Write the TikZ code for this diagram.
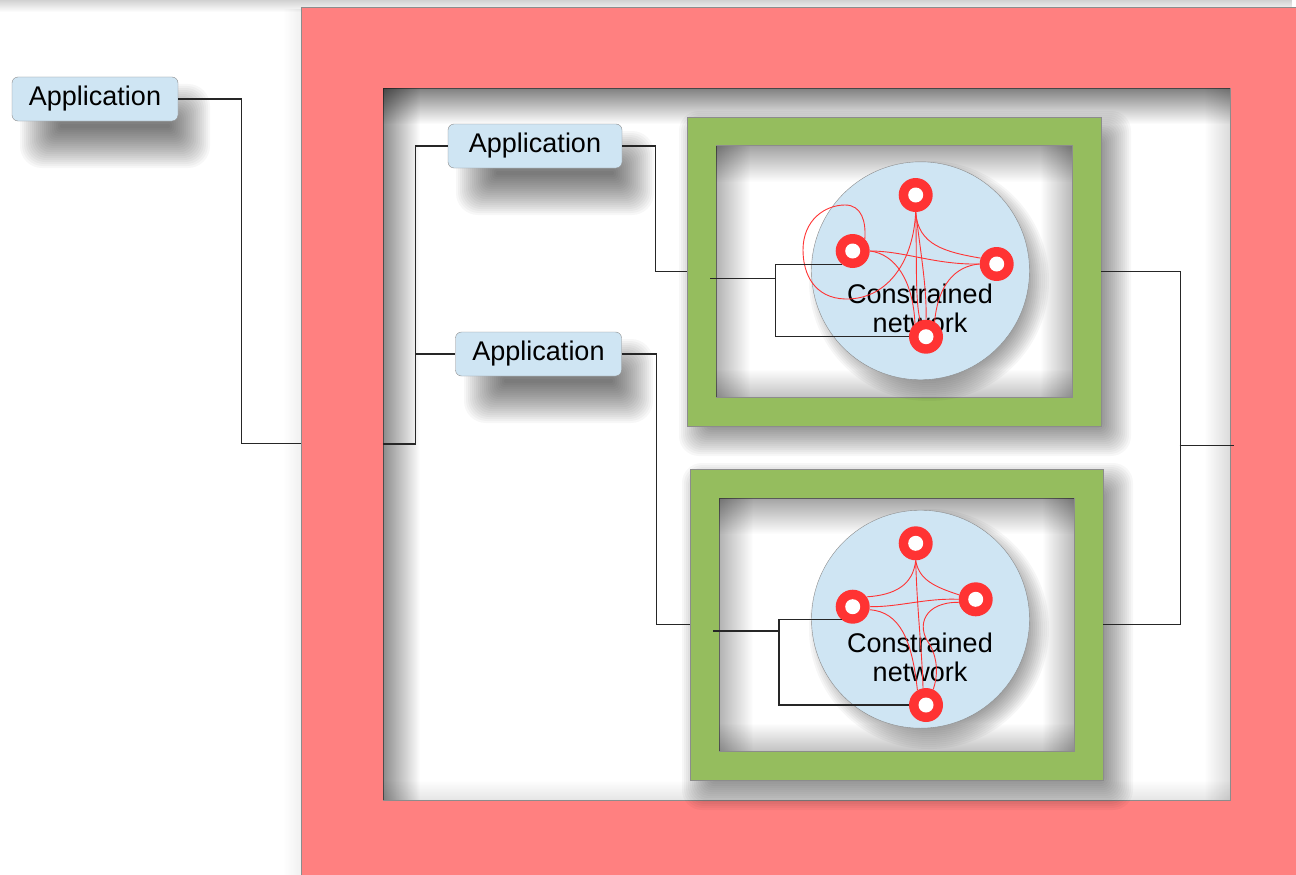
\documentclass[tikz,border=0pt]{standalone}
\usepackage{fontspec}
\setmainfont{Liberation Sans}
\usetikzlibrary{fadings,calc}

\definecolor{frameRed}{RGB}{255,128,128}
\definecolor{frameGreen}{RGB}{149,189,94}
\definecolor{cloudBlue}{RGB}{207,229,243}
\definecolor{ringRed}{RGB}{255,51,51}
\definecolor{edgeGray}{RGB}{140,140,140}

% soft edges: opaque on the named side, clear on the opposite one
\tikzfading[name=fromTop, top color=transparent!0, bottom color=transparent!100]
\tikzfading[name=fromBottom, top color=transparent!100, bottom color=transparent!0]
\tikzfading[name=fromLeft, left color=transparent!0, right color=transparent!100]
\tikzfading[name=fromRight, left color=transparent!100, right color=transparent!0]

% soft drop shadow of a rectangle: corners, spread, opacity of each layer
\newcommand{\dropshade}[6]{%
  \foreach \k in {0,2,...,#5}{%
    \pgfmathsetmacro{\sgx}{#1+#5/2-\k}%
    \pgfmathsetmacro{\sgy}{#2+#5/2-\k}%
    \pgfmathsetmacro{\sgX}{#3-#5/2+\k}%
    \pgfmathsetmacro{\sgY}{#4-#5/2+\k}%
    \pgfmathsetmacro{\sgrc}{2+\k/2}%
    \fill[black, opacity=#6, rounded corners=\sgrc pt] (\sgx,\sgy) rectangle (\sgX,\sgY);
  }}
% soft drop shadow of a disc: centre, radius, spread, opacity of each layer
\newcommand{\dropdisc}[5]{%
  \foreach \k in {0,2,...,#4}{%
    \pgfmathsetmacro{\sgr}{#3-#4/2+\k}%
    \fill[black, opacity=#5] (#1,#2) circle (\sgr pt);
  }}

\tikzset{
  bigfont/.style={font=\fontsize{27}{29.5}\selectfont},
  wire/.style={draw=black!85, line width=1.1pt},
  link/.style={draw=ringRed, line width=0.9pt},
  appbox/.style={rectangle, rounded corners=6pt, draw=edgeGray, fill=cloudBlue,
    inner sep=0pt, bigfont},
  greenframe/.style={rectangle, fill=frameGreen, draw=edgeGray, inner sep=0pt},
  pane/.style={rectangle, fill=white, draw=edgeGray, inner sep=0pt},
  cloud/.style={circle, draw=edgeGray, fill=cloudBlue, minimum size=218pt, inner sep=0pt},
  ring/.style={circle, fill=ringRed, minimum size=34pt, inner sep=0pt,
    path picture={\fill[white] (path picture bounding box.center) circle (7.5pt);}},
  netlabel/.style={align=center, inner sep=0pt, bigfont},
}

\begin{document}
\begin{tikzpicture}[x=1pt,y=-1pt]
\useasboundingbox (0,0) rectangle (1296,875);

% page background and soft shade along the top
\fill[white] (0,0) rectangle (1296,875);
\fill[black, opacity=0.18, path fading=fromTop] (0,0) rectangle (1296,12);
\fill[black, opacity=0.06, path fading=fromRight] (283,7) rectangle (301,875);

% outer red enclosure and its white interior
\node[rectangle, fill=frameRed, draw=edgeGray, inner sep=0pt,
      minimum width=1000pt, minimum height=873pt] (ext) at (801,443.5) {};
\node[pane, minimum width=847pt, minimum height=712pt] (inner) at (806.5,444) {};
\fill[black, opacity=0.50, path fading=fromTop]    (383,88) rectangle (1230,124);
\fill[black, opacity=0.45, path fading=fromLeft]   (383,88) rectangle (420,800);
\fill[black, opacity=0.14, path fading=fromRight]  (1204,88) rectangle (1230,800);
\fill[black, opacity=0.10, path fading=fromBottom] (383,780) rectangle (1230,800);

% applications
\dropshade{40}{104}{190}{148}{40}{0.03}
\dropshade{476}{151}{634}{195}{40}{0.03}
\dropshade{484}{359}{633}{403}{40}{0.03}
\node[appbox, minimum width=166pt, minimum height=44pt] (appOut) at (95,99) {Application};
\node[appbox, minimum width=174pt, minimum height=44pt] (app1) at (535,146) {Application};
\node[appbox, minimum width=166pt, minimum height=44pt] (app2) at (538.5,354) {Application};

% green gateway frames
\dropshade{697}{129}{1113}{438}{36}{0.03}
\dropshade{700}{481}{1115}{792}{36}{0.03}
\node[greenframe, minimum width=414pt, minimum height=309pt] (g1) at (894.2,271.7) {};
\node[pane, minimum width=356pt, minimum height=252pt] (g1in) at (894.2,271.5) {};
\node[greenframe, minimum width=413pt, minimum height=311pt] (g2) at (896.4,624.7) {};
\node[pane, minimum width=355pt, minimum height=253pt] (g2in) at (896.7,624.7) {};

% inner shading of the green frames
\foreach \xa/\ya/\xb/\yb in {716/146/1072/397, 719/498/1074/751}{
  \fill[black, opacity=0.36, path fading=fromTop]    (\xa,\ya) rectangle (\xb,\ya+36);
  \fill[black, opacity=0.30, path fading=fromLeft]   (\xa,\ya) rectangle (\xa+34,\yb);
  \fill[black, opacity=0.28, path fading=fromRight]  (\xb-32,\ya) rectangle (\xb,\yb);
  \fill[black, opacity=0.24, path fading=fromBottom] (\xa,\yb-28) rectangle (\xb,\yb);
}

% constrained networks
\dropdisc{929}{281}{105}{30}{0.035}
\dropdisc{929}{629}{105}{30}{0.035}
\node[cloud] (c1) at (920.5,270.8) {};
\node[cloud] (c2) at (920.5,619.2) {};
\node[netlabel] (n1) at (920,308.2) {Constrained\\network};
\node[netlabel] (n2) at (920,657.3) {Constrained\\network};

\node[ring] (t1) at (915.7,195) {};
\node[ring] (l1) at (852.7,251) {};
\node[ring] (r1) at (996.7,264) {};
\node[ring] (b1) at (926,336.7) {};

\node[ring] (t2) at (915.7,543.3) {};
\node[ring] (l2) at (852.7,606.7) {};
\node[ring] (r2) at (975.7,599.3) {};
\node[ring] (b2) at (926,705) {};

% radio links, first network
\draw[link] (t1.south) .. controls (913,265) and (885,300) .. (845,299)
  .. controls (815,298) and (803,275) .. (803,250)
  .. controls (803,220) and (825,205) .. (845,205)
  .. controls (862,205) and (866,222) .. (l1.north east);
\draw[link] (t1.south) .. controls (917,260) and (915,300) .. (b1.110);
\draw[link] (t1.south) .. controls (921,255) and (927,290) .. (b1.north);
\draw[link] (t1.south) .. controls (918,245) and (945,252) .. (r1.160);
\draw[link] (l1.east) .. controls (905,251) and (935,265) .. (r1.west);
\draw[link] (l1.east) .. controls (895,254) and (913,280) .. (b1.130);
\draw[link] (r1.west) .. controls (955,266) and (938,285) .. (b1.60);

% radio links, second network
\draw[link] (t2.south) .. controls (913,585) and (895,595) .. (l2.35);
\draw[link] (t2.south) .. controls (919,580) and (935,587) .. (r2.165);
\draw[link] (t2.south) .. controls (917,610) and (922,650) .. (b2.100);
\draw[link] (l2.east) .. controls (900,607) and (925,598) .. (r2.west);
\draw[link] (l2.-10) .. controls (900,612) and (912,640) .. (b2.120);
\draw[link] (r2.190) .. controls (925,602) and (915,625) .. (930,645)
  .. controls (938,660) and (938,675) .. (b2.65);

% wiring
\coordinate (s1) at (710,278.3);
\coordinate (k1) at (775.7,278.3);
\coordinate (s2) at (713.3,631);
\coordinate (k2) at (779,631);
\coordinate (bus) at (1179.5,445.3);
\coordinate (busEnd) at (1233.5,445.3);

\draw[wire] (appOut.east) -- ++(63,0) |- (ext.west);
\draw[wire] (inner.west) -- ++(33,0) |- (app1.west);
\draw[wire] ($(inner.west)+(33,0)$) |- (app2.west);
\draw[wire] (app1.east) -- ++(33,0) |- (g1.west);
\draw[wire] (app2.east) -- ++(35,0) |- (g2.west);
\draw[wire] (g1.east) -- ++(79,0) |- (g2.east);
\draw[wire] (bus) -- (busEnd);

\draw[wire] (s1) -- (k1);
\draw[wire] (l1.230) -- (l1.230 -| k1) |- (b1.west);
\draw[wire] (s2) -- (k2);
\draw[wire] (l2.230) -- (l2.230 -| k2) |- (b2.west);
\end{tikzpicture}
\end{document}
